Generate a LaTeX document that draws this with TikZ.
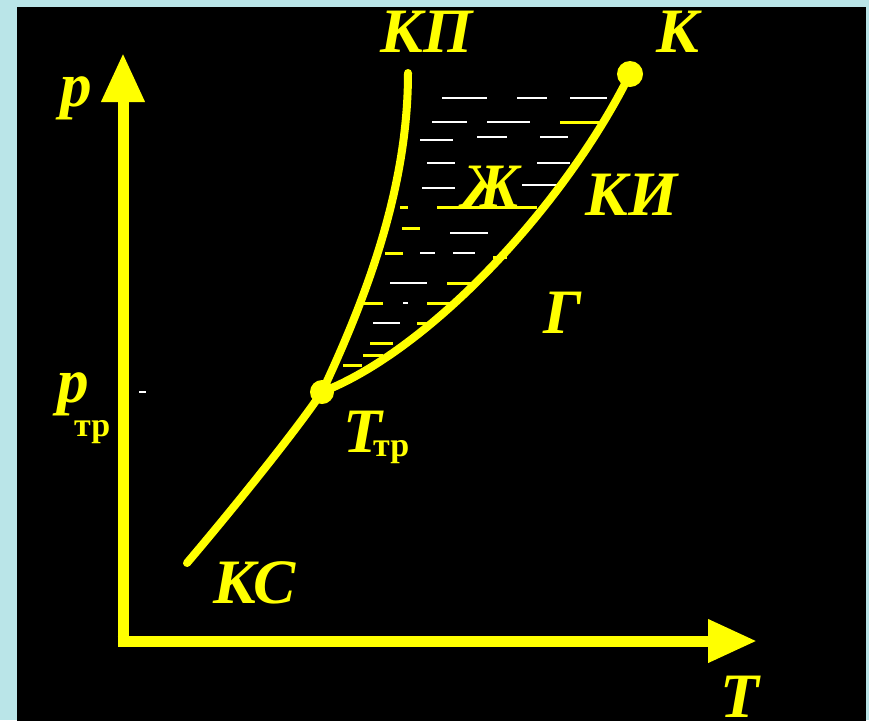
\documentclass[tikz,border=0pt]{standalone}
\usepackage{fontspec}
\setmainfont{Liberation Serif}
\usetikzlibrary{arrows.meta}
\definecolor{bgcyan}{RGB}{186,229,232}
\definecolor{ylw}{RGB}{255,255,0}
\begin{document}
\begin{tikzpicture}[x=0.03cm,y=-0.03cm,
  lab/.style={text=ylw,inner sep=0pt,anchor=base west,font=\fontsize{54}{54}\selectfont\bfseries\itshape},
  sublab/.style={text=ylw,inner sep=0pt,anchor=base west,font=\fontsize{29}{29}\selectfont\bfseries},
  axis/.style={ylw,line width=0.33cm,-{Triangle[length=1.47cm,width=1.22cm]}},
  curve/.style={ylw,line width=0.24cm,line cap=round},
  hatchw/.style={white,line width=0.08cm},
  hatchy/.style={ylw,line width=0.09cm},
  dot/.style={circle,fill=ylw,inner sep=0pt}]
\useasboundingbox (0,0) rectangle (869,720);
\fill[bgcyan] (0,0) rectangle (869,720);
\fill[black] (17,7) rectangle (866,722);
% coordinates
\coordinate (O) at (123,641);
\coordinate (pend) at (123,53);
\coordinate (Tend) at (757,641);
\coordinate (tp) at (322,392);
\coordinate (kp) at (630,74);
\coordinate (mtop) at (408,73);
\coordinate (send) at (187,563);
% hatching
\foreach \a/\b/\y in {442/487/98,517/547/98,570/607/98,432/467/122,487/530/122,
  477/507/137,540/568/137,420/453/140,427/455/163,537/570/163,522/557/185,422/455/188,
  450/488/233,420/435/253,453/475/253,390/427/283,403/408/303,373/400/323}
  \draw[hatchw] (\a,\y) -- (\b,\y);
\foreach \a/\b/\y in {560/600/122,437/537/207,400/408/207,402/420/228,385/403/253,
  493/507/257,447/477/283,363/383/303,427/453/303,417/433/323,370/393/343,
  363/383/355,343/362/365}
  \draw[hatchy] (\a,\y) -- (\b,\y);
% axes
\draw[axis] (O) -- (pend);
\draw[axis] ([xshift=-0.165cm]O) -- (Tend);
\draw[white,line width=0.06cm] (139,392) -- (146,392);
% curves
\draw[curve] (tp) .. controls (365,300) and (408,190) .. (mtop);
\draw[curve] (tp) .. controls (430,350) and (565,205) .. (kp);
\draw[curve] (tp) .. controls (295,432) and (232,510) .. (send);
\node[dot,minimum size=0.78cm] (K) at (kp) {};
\node[dot,minimum size=0.72cm] (TP) at (tp) {};
% labels
\node[lab] (lKP) at (380,52) {КП};
\node[lab] (lK) at (656,52) {К};
\node[lab] (lp) at (60,106) {p};
\node[lab] (lptr) at (57,402) {p};
\node[sublab] (lptrs) at (74,436) {тр};
\node[lab] (lZh) at (462,207) {Ж};
\node[lab] (lKI) at (585,215) {КИ};
\node[lab] (lG) at (543,333) {Г};
\node[lab] (lKS) at (213,603) {КС};
\node[lab] (lTtr) at (343,452) {T};
\node[sublab] (lTtrs) at (373,456) {тр};
\node[lab] (lT) at (720,717) {T};
\end{tikzpicture}
\end{document}
